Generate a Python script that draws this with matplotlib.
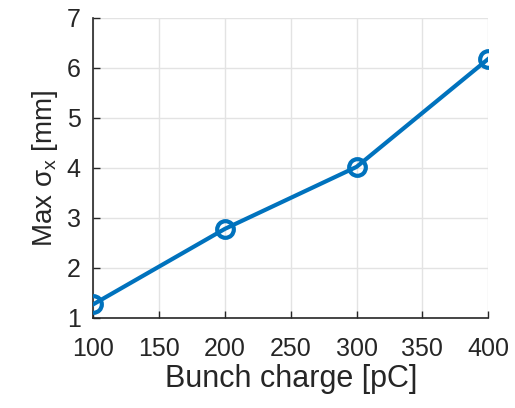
import matplotlib
matplotlib.use("Agg")
import matplotlib.pyplot as plt

# bunch charge scan
charge = [100, 200, 300, 400]           # pC
max_sigma_x = [1.27, 2.78, 4.02, 6.18]  # mm

plt.rcParams['font.family'] = ['Liberation Sans', 'DejaVu Sans']
plt.rcParams['mathtext.fontset'] = 'custom'
plt.rcParams['mathtext.rm'] = 'Liberation Sans'
plt.rcParams['mathtext.it'] = 'Liberation Sans'

fig = plt.figure(figsize=(5.15, 4.08), dpi=100)
ax = fig.add_axes([0.181, 0.221, 0.767, 0.735])

ax.plot(charge, max_sigma_x, color='#0072BD', linewidth=3, marker='o',
        markersize=12, markerfacecolor='none', markeredgewidth=3, zorder=3)

ax.set_xlim(100, 400)
ax.set_ylim(1, 7)
ax.set_xticks(range(100, 401, 50))
ax.set_yticks(range(1, 8))
ax.grid(True, color='#e3e3e3', linewidth=1)
ax.set_axisbelow(True)

for side in ['top', 'right']:
    ax.spines[side].set_visible(False)
for side in ['left', 'bottom']:
    ax.spines[side].set_color('#262626')
    ax.spines[side].set_linewidth(1.2)

ax.tick_params(direction='in', length=5, width=1, colors='#262626', labelsize=18)
ax.tick_params(axis='x', pad=14)
ax.tick_params(axis='y', pad=9)
ax.set_xlabel('Bunch charge [pC]', fontsize=22, color='#262626', labelpad=2)
ax.set_ylabel(r'Max $\mathrm{\sigma_x}$ [mm]', fontsize=20, color='#262626', labelpad=5)

fig.savefig('out.png', dpi=100)
